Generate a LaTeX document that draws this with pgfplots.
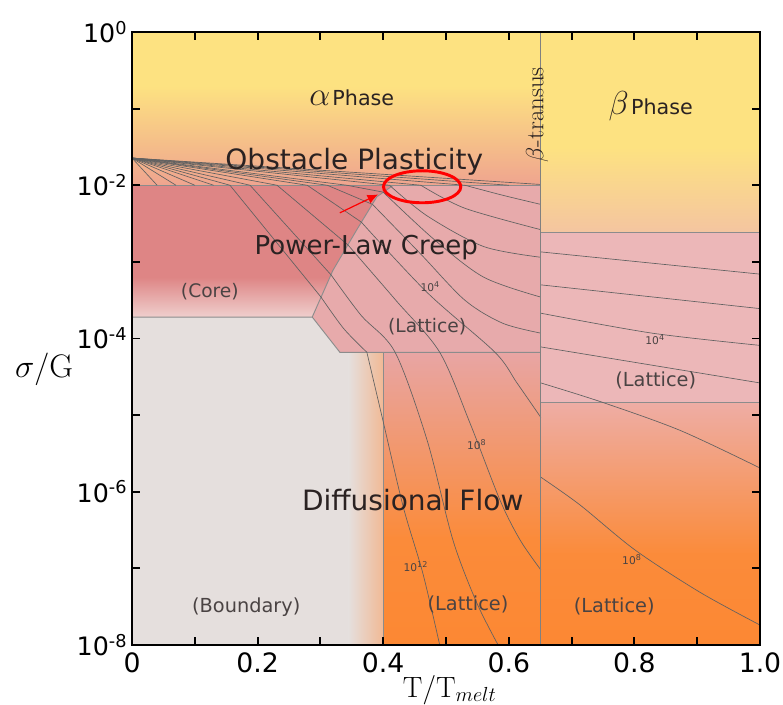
\documentclass[border=0pt]{standalone}
\usepackage{fontspec}
\usepackage{pgfplots}
\pgfplotsset{compat=1.18}
\usetikzlibrary{arrows.meta}
\newfontfamily\dv{DejaVu Sans}
\definecolor{yel}{HTML}{FDE281}
\definecolor{obsmid}{HTML}{F8CB88}
\definecolor{obs}{HTML}{EFA48F}
\definecolor{bmid}{HTML}{F9D68C}
\definecolor{bbot}{HTML}{F4C5A0}
\definecolor{core}{HTML}{DE8585}
\definecolor{corebot}{HTML}{EFCFCD}
\definecolor{latt}{HTML}{E7AAAB}
\definecolor{blatt}{HTML}{ECB7B8}
\definecolor{bound}{HTML}{E5DFDD}
\definecolor{strip}{HTML}{F1B995}
\definecolor{dtop}{HTML}{E8A5A4}
\definecolor{btop}{HTML}{EEADA5}
\definecolor{dor}{HTML}{FB8B3A}
\definecolor{dbot}{HTML}{FC8833}
\definecolor{txt}{HTML}{2A2222}
\pgfplotsset{
 cont/.style={draw=black!62, line width=0.5pt, forget plot},
 bord/.style={draw=black!45, line width=0.7pt, forget plot},
 reg/.style={draw=none, forget plot},
}
\begin{document}
\begin{tikzpicture}
\useasboundingbox (-99pt,-45pt) rectangle (488.25pt,483.75pt);
\begin{axis}[at={(0,0)}, anchor=south west, scale only axis,
 width=471pt, height=459.75pt,
 xmin=0, xmax=1, ymin=-8, ymax=0,
 xtick={0,0.2,0.4,0.6,0.8,1.0}, xticklabels={0,0.2,0.4,0.6,0.8,1.0},
 minor xtick={0.1,0.3,0.5,0.7,0.9},
 ytick={-8,-6,-4,-2,0},
 yticklabels={10\textsuperscript{-8},10\textsuperscript{-6},10\textsuperscript{-4},10\textsuperscript{-2},10\textsuperscript{0}},
 minor ytick={-7,-5,-3,-1},
 tick align=inside, major tick length=6pt, minor tick length=6pt,
 tick style={black, line width=1.4pt},
 axis line style={line width=1.6pt},
 axis on top,
 xticklabel style={font=\dv\fontsize{20}{20}\selectfont, yshift=-2pt},
 yticklabel style={font=\dv\fontsize{19}{19}\selectfont},
 xlabel={$\mathrm{T}/\mathrm{T}_{melt}$},
 ylabel={$\sigma/\mathrm{G}$},
 xlabel style={font=\fontsize{20.74}{21}\selectfont, scale=1.06, at={(axis description cs:0.506,-0.073)}, anchor=center},
 ylabel style={font=\fontsize{20.74}{21}\selectfont, scale=1.18, rotate=-90, at={(axis description cs:-0.14,0.449)}, anchor=center},
]
% ---------- regions ----------
\addplot[reg, fill=yel] coordinates {(0,0)(0.651,0)(0.651,-0.72)(0,-0.72)};
\addplot[reg, top color=yel, middle color=obsmid, bottom color=obs] coordinates {(0,-0.7)(0.651,-0.7)(0.651,-2)(0,-2)};
\addplot[reg, fill=yel] coordinates {(0.651,0)(1,0)(1,-1.52)(0.651,-1.52)};
\addplot[reg, top color=yel, middle color=bmid, bottom color=bbot] coordinates {(0.651,-1.5)(1,-1.5)(1,-2.61)(0.651,-2.61)};
% core
\addplot[reg, fill=core] coordinates {(0,-2)(0.416,-2)(0.390,-2.15)(0.358,-2.58)(0.320,-3.11)(0.314,-3.22)(0,-3.22)};
\addplot[reg, top color=core, bottom color=corebot] coordinates {(0,-3.2)(0.315,-3.2)(0.287,-3.72)(0,-3.72)};
% lattice (alpha power law)
\addplot[reg, fill=latt] coordinates {(0.287,-3.72)(0.320,-3.11)(0.358,-2.58)(0.390,-2.15)(0.416,-2)(0.651,-2)(0.651,-4.18)(0.331,-4.18)};
% boundary
\addplot[reg, fill=bound] coordinates {(0,-3.72)(0.287,-3.72)(0.331,-4.18)(0.4,-4.18)(0.4,-8)(0,-8)};
\addplot[reg, left color=bound, right color=strip] coordinates {(0.345,-4.18)(0.4,-4.18)(0.4,-8)(0.345,-8)};
% diffusional alpha
\addplot[reg, top color=dtop, bottom color=dor] coordinates {(0.4,-4.18)(0.651,-4.18)(0.651,-6.62)(0.4,-6.62)};
\addplot[reg, top color=dor, bottom color=dbot] coordinates {(0.4,-6.6)(0.651,-6.6)(0.651,-8)(0.4,-8)};
% beta lattice
\addplot[reg, fill=blatt] coordinates {(0.651,-2.61)(1,-2.61)(1,-4.83)(0.651,-4.83)};
% beta diffusional
\addplot[reg, top color=btop, bottom color=dor] coordinates {(0.651,-4.83)(1,-4.83)(1,-6.82)(0.651,-6.82)};
\addplot[reg, top color=dor, bottom color=dbot] coordinates {(0.651,-6.8)(1,-6.8)(1,-8)(0.651,-8)};
% ---------- region borders ----------
\addplot[bord] coordinates {(0,-2)(0.651,-2)};
\addplot[bord] coordinates {(0,-3.72)(0.287,-3.72)(0.331,-4.18)(0.651,-4.18)};
\addplot[bord] coordinates {(0.287,-3.72)(0.320,-3.11)(0.358,-2.58)(0.390,-2.15)(0.416,-2)};
\addplot[bord] coordinates {(0.4,-4.18)(0.4,-8)};
\addplot[bord] coordinates {(0.651,-2.61)(1,-2.61)};
\addplot[bord] coordinates {(0.651,-4.83)(1,-4.83)};
% ---------- contours: fan ----------
\addplot[cont] coordinates {(0,-1.645)(0.04,-2)};
\addplot[cont] coordinates {(0,-1.645)(0.07,-2)};
\addplot[cont] coordinates {(0,-1.645)(0.10,-2)};
\addplot[cont] coordinates {(0,-1.645)(0.13,-2)};
\addplot[cont] coordinates {(0,-1.645)(0.156,-2)};
\addplot[cont] coordinates {(0,-1.645)(0.188,-2)};
\addplot[cont] coordinates {(0,-1.645)(0.231,-2)};
\addplot[cont] coordinates {(0,-1.645)(0.279,-2)};
\addplot[cont] coordinates {(0,-1.645)(0.311,-2)};
\addplot[cont] coordinates {(0,-1.645)(0.342,-2)};
\addplot[cont] coordinates {(0,-1.645)(0.41,-2)};
\addplot[cont] coordinates {(0,-1.645)(0.46,-2)};
\addplot[cont] coordinates {(0,-1.645)(0.53,-2)};
\addplot[cont] coordinates {(0,-1.645)(0.60,-2)};
\addplot[cont] coordinates {(0,-1.645)(0.651,-1.99)};
% core segments
\addplot[cont] coordinates {(0.156,-2)(0.301,-3.46)};
\addplot[cont] coordinates {(0.188,-2)(0.317,-3.17)};
\addplot[cont] coordinates {(0.231,-2)(0.344,-2.78)};
\addplot[cont] coordinates {(0.279,-2)(0.365,-2.48)};
\addplot[cont] coordinates {(0.311,-2)(0.383,-2.25)};
\addplot[cont] coordinates {(0.342,-2)(0.400,-2.09)};
% lattice + diffusional
\addplot[cont, smooth] coordinates {(0.301,-3.46)(0.337,-3.87)(0.374,-4.18)};
\addplot[cont, smooth] coordinates {(0.374,-4.18)(0.399,-5.05)(0.432,-6.20)(0.463,-7.06)(0.490,-8)};
\addplot[cont, smooth] coordinates {(0.317,-3.17)(0.365,-3.70)(0.419,-4.18)(0.470,-5.33)(0.511,-6.63)(0.549,-7.45)(0.583,-8)};
\addplot[cont, smooth] coordinates {(0.344,-2.78)(0.42,-3.50)(0.490,-4.18)(0.538,-5.10)(0.586,-6.11)(0.618,-6.63)(0.651,-7.02)};
\addplot[cont, smooth] coordinates {(0.365,-2.48)(0.47,-3.40)(0.578,-4.18)(0.613,-4.58)(0.651,-5.03)};
\addplot[cont, smooth] coordinates {(0.383,-2.25)(0.46,-2.90)(0.53,-3.50)(0.59,-3.80)(0.651,-3.93)};
\addplot[cont, smooth] coordinates {(0.400,-2.09)(0.48,-2.70)(0.56,-3.20)(0.651,-3.46)};
\addplot[cont, smooth] coordinates {(0.41,-2)(0.47,-2.40)(0.56,-2.80)(0.651,-2.94)};
\addplot[cont, smooth] coordinates {(0.46,-2)(0.53,-2.30)(0.651,-2.58)};
\addplot[cont, smooth] coordinates {(0.53,-2)(0.59,-2.13)(0.651,-2.25)};
% beta contours
\addplot[cont] coordinates {(0.651,-2.87)(1,-3.16)};
\addplot[cont] coordinates {(0.651,-3.30)(1,-3.61)};
\addplot[cont, smooth] coordinates {(0.651,-3.67)(0.828,-3.93)(1,-4.09)};
\addplot[cont] coordinates {(0.651,-4.11)(1,-4.58)};
\addplot[cont, smooth] coordinates {(0.651,-4.58)(0.748,-4.83)(0.873,-5.20)(1,-5.69)};
\addplot[cont, smooth] coordinates {(0.651,-5.81)(0.713,-6.17)(0.801,-6.76)(0.904,-7.31)(1,-7.74)};
% beta transus
\addplot[draw=black!50, line width=0.9pt, forget plot] coordinates {(0.651,0)(0.651,-8)};
% ---------- labels ----------
\node[anchor=base, text=txt] at (axis cs:0.350,-0.953) {{\fontsize{24.88}{25}\selectfont$\alpha$}\,{\dv\fontsize{15.5}{15.5}\selectfont Phase}};
\node[anchor=base, text=txt] at (axis cs:0.826,-1.08) {{\fontsize{24.88}{25}\selectfont$\beta$}\,{\dv\fontsize{15.5}{15.5}\selectfont Phase}};
\node[rotate=90, text=txt, font=\fontsize{17.28}{17.5}\selectfont, scale=1.08] at (axis cs:0.645,-1.08) {$\beta$-transus};
\node[anchor=base, text=txt, font=\dv\fontsize{21}{21}\selectfont] at (axis cs:0.354,-1.79) {Obstacle Plasticity};
\node[anchor=base, text=txt, font=\dv\fontsize{19.5}{19.5}\selectfont] at (axis cs:0.373,-2.91) {Power-Law Creep};
\node[anchor=base, text=txt, font=\dv\fontsize{21}{21}\selectfont] at (axis cs:0.447,-6.24) {Diffusional Flow};
\node[anchor=base, text=txt!85, font=\dv\fontsize{14}{14}\selectfont] at (axis cs:0.124,-3.46) {(Core)};
\node[anchor=base, text=txt!85, font=\dv\fontsize{14}{14}\selectfont] at (axis cs:0.470,-3.92) {(Lattice)};
\node[anchor=base, text=txt!85, font=\dv\fontsize{14.5}{14.5}\selectfont] at (axis cs:0.834,-4.63) {(Lattice)};
\node[anchor=base, text=txt!85, font=\dv\fontsize{14.5}{14.5}\selectfont] at (axis cs:0.535,-7.55) {(Lattice)};
\node[anchor=base, text=txt!85, font=\dv\fontsize{14.5}{14.5}\selectfont] at (axis cs:0.182,-7.57) {(Boundary)};
\node[anchor=base, text=txt!85, font=\dv\fontsize{14.5}{14.5}\selectfont] at (axis cs:0.768,-7.58) {(Lattice)};
\node[text=txt!85, font=\dv\fontsize{8}{8}\selectfont] at (axis cs:0.475,-3.32) {10\textsuperscript{4}};
\node[text=txt!85, font=\dv\fontsize{8}{8}\selectfont] at (axis cs:0.833,-4.02) {10\textsuperscript{4}};
\node[text=txt!85, font=\dv\fontsize{8}{8}\selectfont] at (axis cs:0.549,-5.38) {10\textsuperscript{8}};
\node[text=txt!85, font=\dv\fontsize{8}{8}\selectfont] at (axis cs:0.452,-6.98) {10\textsuperscript{12}};
\node[text=txt!85, font=\dv\fontsize{8}{8}\selectfont] at (axis cs:0.796,-6.89) {10\textsuperscript{8}};
% ---------- annotation ----------
\draw[red, line width=2.2pt] (axis cs:0.462,-2.02) ellipse [x radius=29pt, y radius=12pt];
\draw[red, line width=0.9pt, -{Latex[length=8pt,width=7pt]}] (axis cs:0.331,-2.36) -- (axis cs:0.392,-2.12);
\end{axis}
\end{tikzpicture}
\end{document}
